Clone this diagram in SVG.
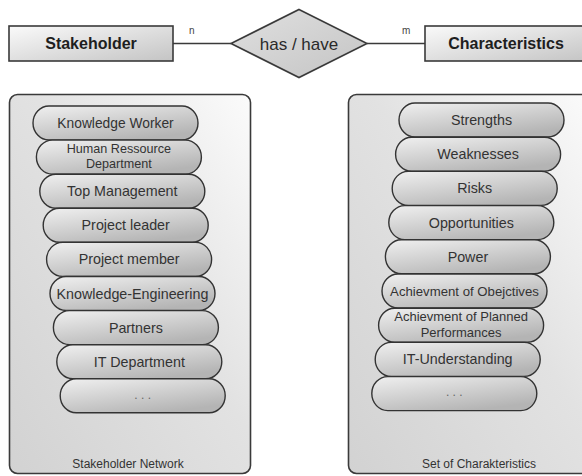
<svg xmlns="http://www.w3.org/2000/svg" width="582" height="476" viewBox="0 0 582 476">
<defs>
<linearGradient id="gBox" x1="0" y1="0" x2="1" y2="1">
<stop offset="0" stop-color="#fafafa"/>
<stop offset="1" stop-color="#c4c4c4"/>
</linearGradient>
<linearGradient id="gDia" x1="0" y1="0" x2="1" y2="1">
<stop offset="0" stop-color="#e0e0e0"/>
<stop offset="1" stop-color="#c4c4c4"/>
</linearGradient>
<linearGradient id="gPanel" x1="1" y1="0" x2="0" y2="1">
<stop offset="0" stop-color="#fbfbfb"/>
<stop offset="0.45" stop-color="#e2e2e2"/>
<stop offset="1" stop-color="#d2d2d2"/>
</linearGradient>
<linearGradient id="gPill" x1="0" y1="0" x2="0.6" y2="1">
<stop offset="0" stop-color="#f0f0f0"/>
<stop offset="1" stop-color="#b4b4b4"/>
</linearGradient>
</defs>
<style>
.ent{fill:url(#gBox);stroke:#3a3a3a;stroke-width:1.6}
.dia{fill:url(#gDia);stroke:#3a3a3a;stroke-width:1.6}
.panel{fill:url(#gPanel);stroke:#3a3a3a;stroke-width:1.6}
.pill{fill:url(#gPill);stroke:#333;stroke-width:1.4}
.con{stroke:#3a3a3a;stroke-width:1.4;fill:none}
text{font-family:"Liberation Sans",Arial,sans-serif;fill:#333;text-anchor:middle}
.title{font-size:16px;font-weight:bold;fill:#1e1e1e}
.rel{font-size:17px;fill:#2a2a2a}
.card{font-size:10px;text-anchor:start;fill:#444}
.lbl{font-size:14.3px}
.lbl2{font-size:13px}
.cap{font-size:12px}
.dots{font-size:12px;fill:#666}
</style>

<g id="connectors">
<line class="con" x1="173" y1="43.5" x2="231" y2="43.5"/>
<line class="con" x1="367" y1="43.5" x2="425" y2="43.5"/>
<text class="card" x="189" y="34">n</text>
<text class="card" x="402" y="34">m</text>
</g>

<g id="stakeholder">
<rect class="ent" x="9" y="26" width="164" height="35"/>
<text class="title" x="91" y="49">Stakeholder</text>
</g>

<g id="has-have">
<polygon class="dia" points="299,9.5 367,43.5 299,77.5 231,43.5"/>
<text class="rel" x="299" y="49.5">has / have</text>
</g>

<g id="characteristics">
<rect class="ent" x="425" y="26" width="165" height="35"/>
<text class="title" x="506" y="49">Characteristics</text>
</g>

<g id="stakeholder-network">
<rect class="panel" x="9.5" y="94.5" width="241" height="379" rx="8"/>
<text class="cap" x="128" y="468">Stakeholder Network</text>
</g>

<g id="set-of-charakteristics">
<rect class="panel" x="348.5" y="94.5" width="245" height="379" rx="8"/>
<text class="cap" x="479" y="468">Set of Charakteristics</text>
</g>

<g id="knowledge-worker"><rect class="pill" x="33" y="106" width="165" height="34" rx="16" ry="17"/><text class="lbl" x="115.5" y="128" style="font-size:13.8px">Knowledge Worker</text></g>
<g id="human-ressource"><rect class="pill" x="36.4" y="140.1" width="165" height="34" rx="16" ry="17"/><text class="lbl2" x="118.9" y="152.7" style="font-size:12.6px">Human Ressource</text><text class="lbl2" x="118.9" y="168" style="font-size:12.6px">Department</text></g>
<g id="top-management"><rect class="pill" x="39.8" y="174.2" width="165" height="34" rx="16" ry="17"/><text class="lbl" x="122.3" y="196.2">Top Management</text></g>
<g id="project-leader"><rect class="pill" x="43.2" y="208.3" width="165" height="34" rx="16" ry="17"/><text class="lbl" x="125.7" y="230.3">Project leader</text></g>
<g id="project-member"><rect class="pill" x="46.6" y="242.4" width="165" height="34" rx="16" ry="17"/><text class="lbl" x="129.1" y="264.4">Project member</text></g>
<g id="knowledge-engineering"><rect class="pill" x="50" y="276.5" width="165" height="34" rx="16" ry="17"/><text class="lbl" x="132.5" y="298.5">Knowledge-Engineering</text></g>
<g id="partners"><rect class="pill" x="53.4" y="310.6" width="165" height="34" rx="16" ry="17"/><text class="lbl" x="135.9" y="332.6">Partners</text></g>
<g id="it-department"><rect class="pill" x="56.8" y="344.7" width="165" height="34" rx="16" ry="17"/><text class="lbl" x="139.3" y="366.7">IT Department</text></g>
<g id="stakeholder-more"><rect class="pill" x="60.2" y="378.8" width="165" height="34" rx="16" ry="17"/><text class="dots" x="142.7" y="398.5">. . .</text></g>

<g id="strengths"><rect class="pill" x="399" y="103" width="165" height="34" rx="16" ry="17"/><text class="lbl" x="481.5" y="125">Strengths</text></g>
<g id="weaknesses"><rect class="pill" x="395.6" y="137.2" width="165" height="34" rx="16" ry="17"/><text class="lbl" x="478.1" y="159.2">Weaknesses</text></g>
<g id="risks"><rect class="pill" x="392.2" y="171.4" width="165" height="34" rx="16" ry="17"/><text class="lbl" x="474.7" y="193.4">Risks</text></g>
<g id="opportunities"><rect class="pill" x="388.8" y="205.6" width="165" height="34" rx="16" ry="17"/><text class="lbl" x="471.3" y="227.6">Opportunities</text></g>
<g id="power"><rect class="pill" x="385.4" y="239.8" width="165" height="34" rx="16" ry="17"/><text class="lbl" x="467.9" y="261.8">Power</text></g>
<g id="achievment-objectives"><rect class="pill" x="382" y="274" width="165" height="34" rx="16" ry="17"/><text class="lbl2" x="464.5" y="295.5" style="font-size:13.2px">Achievment of Obejctives</text></g>
<g id="achievment-performances"><rect class="pill" x="378.6" y="308.2" width="165" height="34" rx="16" ry="17"/><text class="lbl2" x="461.1" y="320.7">Achievment of Planned</text><text class="lbl2" x="461.1" y="336.5">Performances</text></g>
<g id="it-understanding"><rect class="pill" x="375.2" y="342.4" width="165" height="34" rx="16" ry="17"/><text class="lbl" x="457.7" y="364.4">IT-Understanding</text></g>
<g id="characteristics-more"><rect class="pill" x="371.8" y="376.6" width="165" height="34" rx="16" ry="17"/><text class="dots" x="454.3" y="396.3">. . .</text></g>
</svg>
